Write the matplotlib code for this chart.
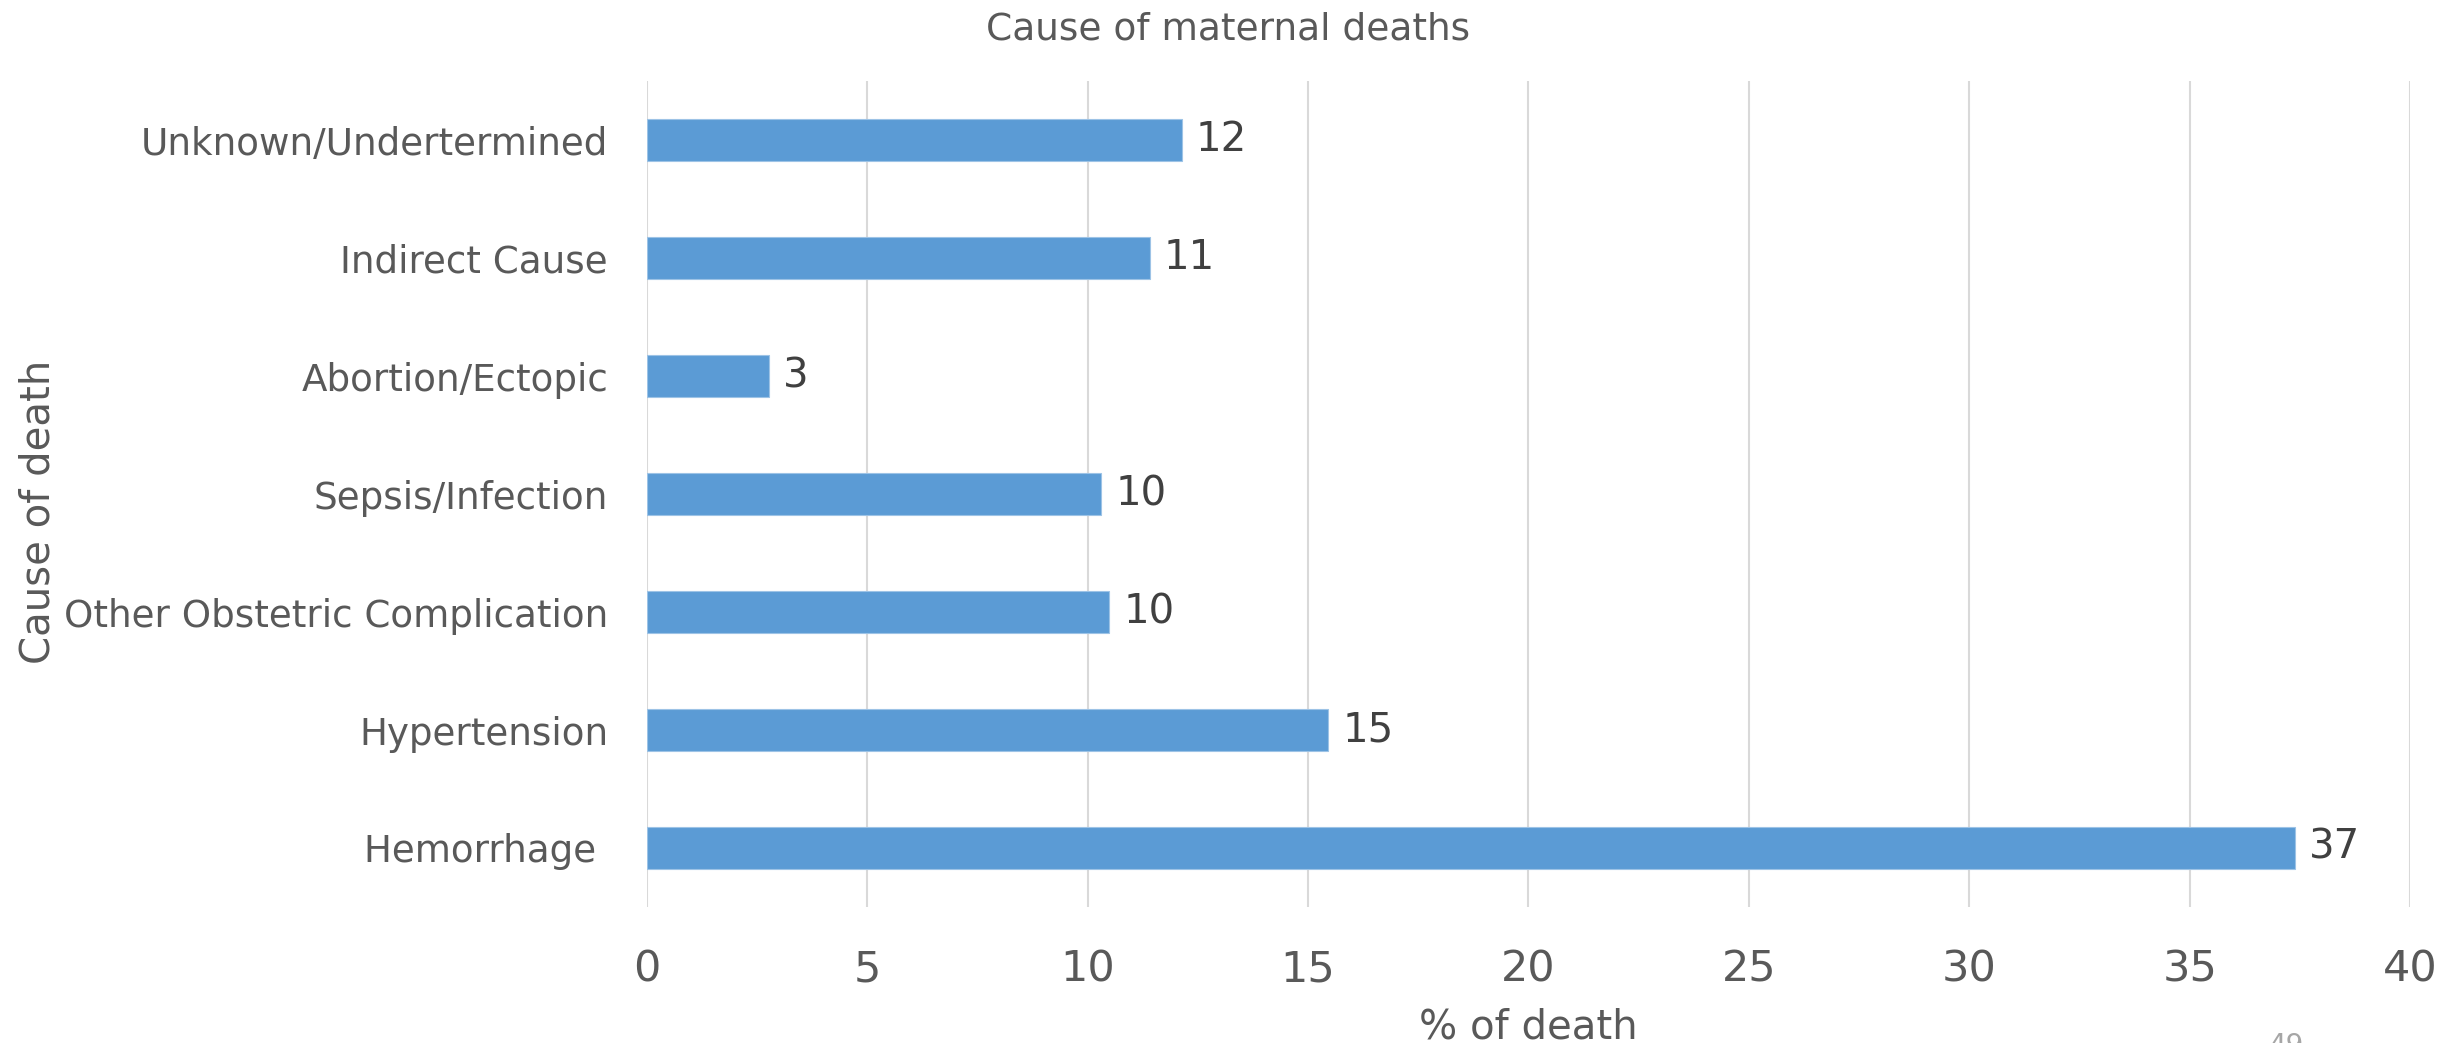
import matplotlib.pyplot as plt

# Data (bottom to top, as drawn)
causes = ["Hemorrhage ", "Hypertension", "Other Obstetric Complication",
          "Sepsis/Infection", "Abortion/Ectopic", "Indirect Cause",
          "Unknown/Undertermined"]
pct_death = [37.4, 15.46, 10.49, 10.31, 2.76, 11.41, 12.14]
value_labels = ["37", "15", "10", "10", "3", "11", "12"]
x_ticks = [0, 5, 10, 15, 20, 25, 30, 35, 40]

bar_color = "#5B9BD5"
text_color = "#595959"

fig = plt.figure(figsize=(24.56, 10.43), dpi=100)
ax = fig.add_axes([0.2634, 0.1304, 0.7179, 0.7919])

bars = ax.barh(range(len(causes)), pct_death, height=0.35, color=bar_color,
               edgecolor="#9DC3E6", linewidth=0.8, zorder=3)
ax.bar_label(bars, labels=value_labels, padding=10, fontsize=29, color="#404040")

ax.set_xlim(0, 40)
ax.set_ylim(-0.5, len(causes) - 0.5)
ax.set_xticks(x_ticks)
ax.set_xticklabels([str(t) for t in x_ticks], fontsize=31, color=text_color)
ax.set_yticks(range(len(causes)))
ax.set_yticklabels(causes, fontsize=26.8, color=text_color)
ax.tick_params(axis="both", length=0)
ax.tick_params(axis="x", pad=30)
ax.tick_params(axis="y", pad=28)

ax.grid(axis="x", color="#D9D9D9", linewidth=1.5, zorder=0)
for s in ax.spines.values():
    s.set_visible(False)

ax.set_xlabel("% of death", fontsize=29, color=text_color, labelpad=12)
ax.set_ylabel("Cause of death", fontsize=29, color=text_color)
ax.yaxis.set_label_coords(-0.334, 0.478)

fig.text(0.5, 0.972, "Cause of maternal deaths", fontsize=27, color=text_color,
         ha="center", va="center")
fig.text(0.931, 0.0105, "49", fontsize=20, color="#A6A6A6", ha="center", va="top")

fig.savefig("out.png", dpi=100)
